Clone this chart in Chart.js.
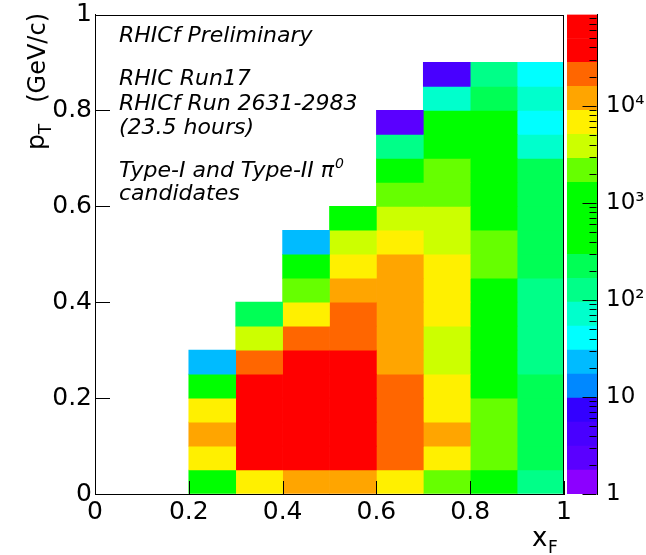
<!DOCTYPE html>
<html>
<head>
<meta charset="utf-8">
<script src="https://cdn.jsdelivr.net/npm/chart.js@4.4.1/dist/chart.umd.min.js"></script>
<style>
    html, body { margin: 0; padding: 0; background: #fff; }
    #wrap { position: relative; width: 646px; height: 555px; overflow: hidden; }
    #main { position: absolute; left: 0; top: 0; }
    #zbar { position: absolute; left: 560px; top: 0; }
</style>
</head>
<body>
<div id="wrap">
    <canvas id="main" width="646" height="555"></canvas>
    <canvas id="zbar" width="86" height="555"></canvas>
</div>
<script>
// bin edges
const xfEdges = [0.2, 0.3, 0.4, 0.5, 0.6, 0.7, 0.8, 0.9, 1.0];
const ptEdges = [0, 0.05, 0.1, 0.15, 0.2, 0.25, 0.3, 0.35, 0.4, 0.45, 0.5, 0.55, 0.6, 0.65, 0.7, 0.75, 0.8, 0.85, 0.9];

// entries per cell, one array per x_F bin, listed from p_T = 0 upward
const countsXf020 = [700, 6500, 12000, 6500, 700, 24];
const countsXf030 = [6500, 40000, 55000, 50000, 35000, 21000, 3800, 230];
const countsXf040 = [12000, 45000, 65000, 60000, 50000, 32000, 20000, 6500, 2200, 800, 24];
const countsXf050 = [11000, 42000, 55000, 50000, 42000, 30000, 18000, 16000, 10000, 6000, 3500, 700];
const countsXf060 = [6000, 19000, 22000, 20000, 17000, 14000, 12000, 10000, 10000, 9500, 5500, 3500, 2000, 1000, 130, 2];
const countsXf070 = [2000, 6000, 9500, 7000, 5500, 4200, 3500, 5200, 6000, 5200, 3600, 3200, 2200, 1800, 1200, 700, 75, 4];
const countsXf080 = [1000, 2000, 2300, 1800, 1400, 1200, 1100, 1000, 1000, 1700, 1700, 1100, 900, 800, 650, 550, 230, 130];
const countsXf090 = [130, 260, 280, 260, 240, 150, 140, 140, 120, 220, 220, 220, 200, 180, 75, 42, 70, 40];

// colour axis
const zTickValues = [1, 10, 100, 1000, 10000];
const zTickLabels = ['1', '10', '10²', '10³', '10⁴'];
const zMinorSteps = [2, 3, 4, 5, 6, 7, 8, 9];
const zMin = 1;
const zMax = 87500;

const notes = ['RHICf Preliminary', 'RHIC Run17', 'RHICf Run 2631-2983', '(23.5 hours)', 'Type-I and Type-II π', 'candidates'];

// ROOT-like palette, 20 contour levels (low -> high)
const palette = [
    '#8c00ff', '#5a00ff', '#4800ff', '#3300ff', '#0088ff',
    '#00bbff', '#00ffff', '#00ffcc', '#00ff88', '#00ff55',
    '#00ff00', '#00ff00', '#00ff00', '#66ff00', '#ccff00',
    '#fff000', '#ffa500', '#ff6600', '#ff0000', '#ff0000'
];
const nContours = palette.length;
const logSpan = Math.log10(zMax / zMin);

const contourOf = z => {
    const k = Math.floor(Math.log10(z / zMin) / logSpan * nContours);
    return Math.max(0, Math.min(nContours - 1, k));
};
const contourLevel = k => zMin * Math.pow(10, logSpan * k / nContours);

Chart.defaults.font.family = '"DejaVu Sans"';
Chart.defaults.color = '#000';

const columns = [countsXf020, countsXf030, countsXf040, countsXf050, countsXf060, countsXf070, countsXf080, countsXf090];

const cellSets = columns.map((counts, i) => ({
    data: counts.map((z, r) => ({ x: (xfEdges[i] + xfEdges[i + 1]) / 2, y: [ptEdges[r], ptEdges[r + 1]] })),
    backgroundColor: counts.map(z => palette[contourOf(z)]),
    borderWidth: 0,
    grouped: false,
    barPercentage: 1,
    categoryPercentage: 1
}));

const tickFont = { family: '"DejaVu Sans"', size: 25 };
const shortNum = v => String(Number(v.toFixed(2)));

// ROOT draws its tick marks inside the frame, on top of the cells
const rootTicks = {
    id: 'rootTicks',
    afterDatasetsDraw(chart) {
        const { ctx, scales: { x, y }, chartArea: a } = chart;
        ctx.save();
        ctx.strokeStyle = '#000';
        ctx.lineWidth = 1;
        ctx.beginPath();
        x.ticks.forEach(t => {
            const px = Math.round(x.getPixelForValue(t.value)) + 0.5;
            ctx.moveTo(px, a.bottom);
            ctx.lineTo(px, a.bottom - 13);
        });
        y.ticks.forEach(t => {
            const py = Math.round(y.getPixelForValue(t.value)) + 0.5;
            ctx.moveTo(a.left, py);
            ctx.lineTo(a.left + 15, py);
        });
        ctx.stroke();
        ctx.restore();
    }
};

const rootText = {
    id: 'rootText',
    afterDraw(chart) {
        const { ctx, chartArea: a } = chart;
        ctx.save();
        // frame
        ctx.strokeStyle = '#000';
        ctx.lineWidth = 1;
        ctx.strokeRect(Math.round(a.left) + 0.5, Math.round(a.top) + 0.5,
            Math.round(a.right - a.left) - 1, Math.round(a.bottom - a.top) - 1);

        ctx.fillStyle = '#000';
        ctx.textAlign = 'left';
        ctx.textBaseline = 'alphabetic';
        ctx.font = 'italic 22px "DejaVu Sans"';
        ctx.fillText(notes[0], 119, 42);
        ctx.fillText(notes[1], 119, 85);
        ctx.fillText(notes[2], 119, 110);
        ctx.fillText(notes[3], 119, 134);
        ctx.fillText(notes[4], 119, 177);
        const w = ctx.measureText(notes[4]).width;
        ctx.fillText(notes[5], 119, 200);
        ctx.font = 'italic 14px "DejaVu Sans"';
        ctx.fillText('0', 119 + w + 1, 168);

        // y title
        ctx.save();
        ctx.translate(44, 150);
        ctx.rotate(-Math.PI / 2);
        ctx.font = '25px "DejaVu Sans"';
        ctx.fillText('p', 0, 0);
        const pw = ctx.measureText('p').width;
        ctx.font = '17px "DejaVu Sans"';
        ctx.fillText('T', pw, 7);
        ctx.restore();
        ctx.save();
        ctx.translate(45, 13);
        ctx.rotate(-Math.PI / 2);
        ctx.textAlign = 'right';
        ctx.font = '24px "DejaVu Sans"';
        ctx.fillText('(GeV/c)', 0, 0);
        ctx.restore();

        // x title
        ctx.font = '26px "DejaVu Sans"';
        ctx.fillText('x', 532, 546);
        ctx.font = '17px "DejaVu Sans"';
        ctx.fillText('F', 548, 553);
        ctx.restore();
    }
};

new Chart(document.getElementById('main'), {
    type: 'bar',
    data: { datasets: cellSets },
    options: {
        responsive: false,
        animation: false,
        events: [],
        layout: { padding: { left: 0, right: 82, top: 14.5, bottom: 0 } },
        plugins: { legend: { display: false }, tooltip: { enabled: false } },
        scales: {
            x: {
                type: 'linear', min: 0, max: 1, offset: false,
                ticks: { stepSize: 0.2, font: tickFont, padding: 3, maxRotation: 0, autoSkip: false, callback: shortNum },
                grid: { offset: false, drawOnChartArea: false, drawTicks: false },
                border: { color: '#000', width: 1 },
                afterFit: s => { s.height = 61; s.paddingLeft = 0; s.paddingRight = 0; }
            },
            y: {
                type: 'linear', min: 0, max: 1,
                ticks: { stepSize: 0.2, font: tickFont, padding: 3, callback: shortNum },
                grid: { drawOnChartArea: false, drawTicks: false },
                border: { color: '#000', width: 1 },
                afterFit: s => { s.width = 95; s.paddingTop = 0; s.paddingBottom = 0; }
            }
        }
    },
    plugins: [rootTicks, rootText]
});

// colour bar
const bandSets = palette.map((c, k) => ({
    data: [[contourLevel(k), contourLevel(k + 1)]],
    backgroundColor: c,
    borderWidth: 0,
    grouped: false,
    barPercentage: 1,
    categoryPercentage: 1,
    yAxisID: 'z'
}));

const zTicks = {
    id: 'zTicks',
    afterDatasetsDraw(chart) {
        const { ctx, scales: { z }, chartArea: a } = chart;
        const right = Math.round(a.right) - 0.5;
        ctx.save();
        ctx.strokeStyle = '#000';
        ctx.lineWidth = 1;
        ctx.beginPath();
        zTickValues.forEach(dec => {
            const py = Math.round(z.getPixelForValue(dec)) + 0.5;
            ctx.moveTo(right, py);
            ctx.lineTo(right - 14, py);
            zMinorSteps.forEach(m => {
                const v = m * dec;
                if (v >= zMax) return;
                const pm = Math.round(z.getPixelForValue(v)) + 0.5;
                ctx.moveTo(right, pm);
                ctx.lineTo(right - 7, pm);
            });
        });
        ctx.stroke();
        ctx.restore();
    }
};

new Chart(document.getElementById('zbar'), {
    type: 'bar',
    data: { labels: [''], datasets: bandSets },
    options: {
        responsive: false,
        animation: false,
        events: [],
        layout: { padding: { left: 7, right: 0, top: 14.5, bottom: 61 } },
        plugins: { legend: { display: false }, tooltip: { enabled: false } },
        scales: {
            x: { display: false },
            z: {
                type: 'logarithmic', position: 'right', min: zMin, max: zMax,
                afterBuildTicks: s => { s.ticks = zTickValues.map(v => ({ value: v })); },
                ticks: {
                    font: { family: '"DejaVu Sans"', size: 23 }, padding: 9,
                    callback: v => zTickLabels[zTickValues.indexOf(v)]
                },
                grid: { drawOnChartArea: false, drawTicks: false },
                border: { color: '#000', width: 1 },
                afterFit: s => { s.width = 49; s.paddingTop = 0; s.paddingBottom = 0; }
            }
        }
    },
    plugins: [zTicks]
});
</script>
</body>
</html>
